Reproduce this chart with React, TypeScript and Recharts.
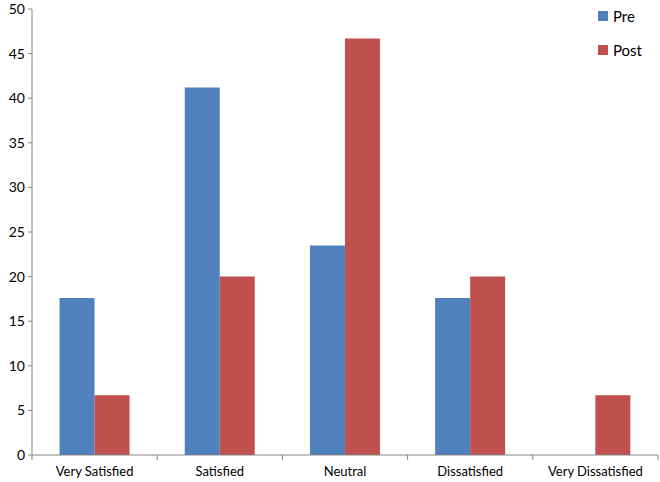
import { BarChart, Bar, XAxis, YAxis } from 'recharts';

const categories = ['Very Satisfied', 'Satisfied', 'Neutral', 'Dissatisfied', 'Very Dissatisfied'];
const preValues = [17.6, 41.2, 23.5, 17.6, 0];
const postValues = [6.7, 20, 46.7, 20, 6.7];
const yTicks = [0, 5, 10, 15, 20, 25, 30, 35, 40, 45, 50];

const PRE = '#4F81BD';
const POST = '#C0504D';
const AXIS = '#868686';
const FONT = 'Lato, "Open Sans", sans-serif';

const W = 660;
const H = 482;
const MARGIN = { top: 9, right: 2, left: 0, bottom: 0 };
const Y_WIDTH = 32;
const BAND = (W - MARGIN.left - MARGIN.right - Y_WIDTH) / categories.length;

const data = categories.map((name, i) => ({ name, Pre: preValues[i], Post: postValues[i] }));

// Excel style: tick marks sit between the categories, not under them
function CategoryTick(props: any) {
    const { x, y, payload, index } = props;
    return (
        <g>
            {index === 0 && <line x1={x - BAND / 2} y1={y - 8} x2={x - BAND / 2} y2={y - 3} stroke={AXIS} />}
            <line x1={x + BAND / 2} y1={y - 8} x2={x + BAND / 2} y2={y - 3} stroke={AXIS} />
            <text x={x} y={y + 13} textAnchor="middle" fill="#000" fontSize={13} fontFamily={FONT}>
                {payload.value}
            </text>
        </g>
    );
}

function LegendBox() {
    const items = [
        { label: 'Pre', color: PRE },
        { label: 'Post', color: POST },
    ];
    return (
        <div style={{ position: 'absolute', top: 7, left: 598, fontFamily: FONT, fontSize: 15 }}>
            {items.map((it, i) => (
                <div key={it.label} style={{ display: 'flex', alignItems: 'center', height: 18, marginTop: i ? 16 : 0 }}>
                    <span style={{ width: 10, height: 10, background: it.color, marginRight: 5 }} />
                    <span>{it.label}</span>
                </div>
            ))}
        </div>
    );
}

export default function App() {
    return (
        <div style={{ position: 'absolute', top: 0, left: 0, width: W, height: H, background: '#fff' }}>
            <BarChart width={W} height={H} data={data} margin={MARGIN} barCategoryGap="22%" barGap={0}>
                <XAxis
                    dataKey="name"
                    height={27}
                    stroke={AXIS}
                    tickLine={false}
                    tick={<CategoryTick />}
                    interval={0}
                />
                <YAxis
                    width={Y_WIDTH}
                    domain={[0, 50]}
                    ticks={yTicks}
                    interval={0}
                    stroke={AXIS}
                    tickSize={4}
                    tick={{ fill: '#000', fontSize: 14, fontFamily: FONT }}
                    tickMargin={3}
                />
                <Bar dataKey="Pre" fill={PRE} isAnimationActive={false} />
                <Bar dataKey="Post" fill={POST} isAnimationActive={false} />
            </BarChart>
            <LegendBox />
        </div>
    );
}
